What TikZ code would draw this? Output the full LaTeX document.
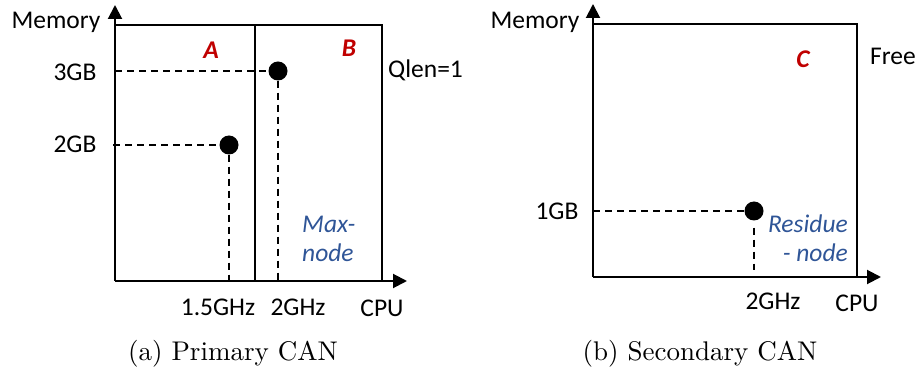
\documentclass[tikz,border=0pt]{standalone}
\usepackage{fontspec}
\newfontfamily\calfont{Carlito}
\newfontfamily\capfont{lmroman10-regular}[Extension=.otf]
\usetikzlibrary{arrows.meta}
\definecolor{labred}{HTML}{C00000}
\definecolor{labblue}{HTML}{2F5597}
\begin{document}
\begin{tikzpicture}[x=1pt,y=-1pt,
 axis/.style={line width=2pt,-{Triangle[length=14pt,width=14pt]}},
 frame/.style={line width=2pt},
 guide/.style={line width=2pt,dash pattern=on 7pt off 5pt},
 dot/.style={circle,fill=black,inner sep=0pt,minimum size=19pt},
 lbl/.style={font=\calfont\fontsize{25.5}{30}\selectfont,inner sep=0pt},
 zone/.style={font=\calfont\fontsize{25.5}{30}\selectfont\bfseries\itshape,text=labred,inner sep=0pt},
 note/.style={font=\calfont\fontsize{25.5}{30}\selectfont\itshape,text=labblue,inner sep=0pt},
 captext/.style={font=\capfont\fontsize{27}{32}\selectfont,inner sep=0pt}]
\useasboundingbox (0,0) rectangle (916,371);
% ---------- panel (a) ----------
\coordinate (o1) at (115,281);
\coordinate (y1) at (115,5);
\coordinate (x1) at (407,281);
\coordinate (tl1) at (115,25);
\coordinate (tr1) at (382,25);
\coordinate (br1) at (382,281);
\coordinate (dt1) at (255,25);
\coordinate (db1) at (255,281);
\draw[frame] (tl1) -- (tr1) -- (br1);
\draw[frame] (dt1) -- (db1);
\draw[axis] (o1) -- (y1);
\draw[axis] (o1) -- (x1);
\coordinate (hB) at (115,71);
\coordinate (vB) at (278,281);
\coordinate (hA) at (113,145);
\coordinate (vA) at (229,281);
\node[dot] (dB) at (278,71) {};
\node[dot] (dA) at (229,145) {};
\draw[guide] (hB) -- (dB.west);
\draw[guide] (dB.south) -- (vB);
\draw[guide] (hA) -- (dA.west);
\draw[guide] (dA.south) -- (vA);
\node[lbl,anchor=base] (mem1) at (56,29) {Memory};
\node[lbl,anchor=base] (gb3) at (75,81) {3GB};
\node[lbl,anchor=base] (gb2) at (75,153) {2GB};
\node[zone,anchor=base] (zA) at (211,59) {A};
\node[zone,anchor=base] (zB) at (349,57) {B};
\node[lbl,anchor=base west] (qlen) at (388,78) {Qlen=1};
\node[note,anchor=base west] (max1) at (302,233) {Max-};
\node[note,anchor=base west] (max2) at (302,262) {node};
\node[lbl,anchor=base] (ghz15) at (218,316) {1.5GHz};
\node[lbl,anchor=base] (ghz2a) at (298,316) {2GHz};
\node[lbl,anchor=base] (cpu1) at (382,317) {CPU};
\node[captext,anchor=base] (capa) at (233,360) {(a) Primary CAN};
% ---------- panel (b) ----------
\coordinate (o2) at (593,277);
\coordinate (y2) at (593,4);
\coordinate (x2) at (881,277);
\coordinate (tl2) at (593,24);
\coordinate (tr2) at (857,24);
\coordinate (br2) at (857,277);
\draw[frame] (tl2) -- (tr2) -- (br2);
\draw[axis] (o2) -- (y2);
\draw[axis] (o2) -- (x2);
\coordinate (hC) at (593,211);
\coordinate (vC) at (754,270);
\node[dot] (dC) at (754,211) {};
\draw[guide] (hC) -- (dC.west);
\draw[guide] ([yshift=-7pt]dC.south) -- (vC);
\node[lbl,anchor=base] (mem2) at (535,29) {Memory};
\node[zone,anchor=base] (zC) at (803,68) {C};
\node[lbl,anchor=base west] (free) at (870,65) {Free};
\node[lbl,anchor=base] (gb1) at (557,220) {1GB};
\node[note,anchor=base east] (res1) at (848,233) {Residue};
\node[note,anchor=base east] (res2) at (848,262) {- node};
\node[lbl,anchor=base] (ghz2b) at (773,310) {2GHz};
\node[lbl,anchor=base] (cpu2) at (857,312) {CPU};
\node[captext,anchor=base] (capb) at (700,360) {(b) Secondary CAN};
\end{tikzpicture}
\end{document}
